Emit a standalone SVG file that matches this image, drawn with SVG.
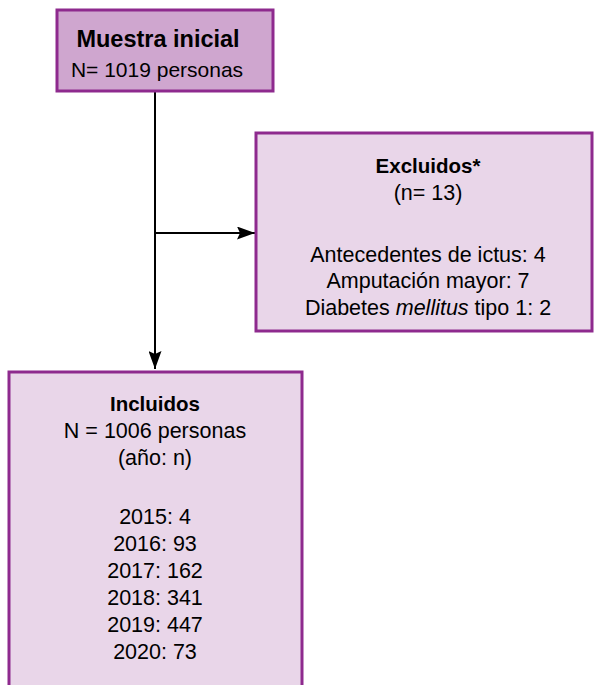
<svg xmlns="http://www.w3.org/2000/svg" width="596" height="685" viewBox="0 0 596 685">
<defs>
<style>
.box{stroke:#8e2a8e;stroke-width:3}
.dark{fill:#cfa6cf}
.light{fill:#e9d6e9}
text{font-family:"Liberation Sans",Arial,sans-serif;fill:#000;text-anchor:middle;font-size:21.5px}
.b{font-weight:bold;font-size:20.5px}
.conn{stroke:#000;stroke-width:2;fill:none}
</style>
<marker id="arr" viewBox="0 0 18 13" refX="18" refY="6.5" markerWidth="18" markerHeight="13" markerUnits="userSpaceOnUse" orient="auto">
<path d="M0,0 L18,6.5 L0,13 L3,6.5 z" fill="#000"/>
</marker>
</defs>
<g id="connectors">
<path class="conn" d="M155,92 V369" marker-end="url(#arr)"/>
<path class="conn" d="M155,233 H255" marker-end="url(#arr)"/>
</g>
<g id="muestra">
<rect class="box dark" x="57" y="10" width="216" height="81"/>
<text class="b" x="158" y="47" style="font-size:23.5px">Muestra inicial</text>
<text x="157" y="77" style="font-size:21px">N= 1019 personas</text>
</g>
<g id="excluidos">
<rect class="box light" x="256" y="133" width="336" height="198"/>
<text class="b" x="428" y="173">Excluidos*</text>
<text x="428" y="200">(n= 13)</text>
<text x="428" y="262">Antecedentes de ictus: 4</text>
<text x="428" y="288">Amputación mayor: 7</text>
<text x="428" y="315">Diabetes <tspan font-style="italic">mellitus</tspan> tipo 1: 2</text>
</g>
<g id="incluidos">
<rect class="box light" x="9" y="372" width="293" height="330"/>
<text class="b" x="155" y="411">Incluidos</text>
<text x="155" y="438">N = 1006 personas</text>
<text x="155" y="465">(año: n)</text>
<text x="155" y="524">2015: 4</text>
<text x="155" y="551">2016: 93</text>
<text x="155" y="578">2017: 162</text>
<text x="155" y="605">2018: 341</text>
<text x="155" y="632">2019: 447</text>
<text x="155" y="659">2020: 73</text>
</g>
</svg>
